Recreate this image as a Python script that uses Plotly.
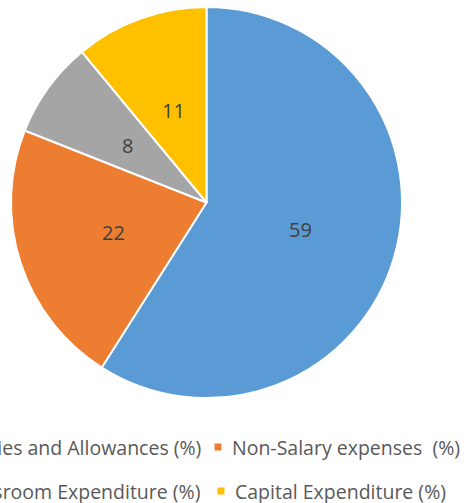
import math
import plotly.graph_objects as go

categories = ["Salaries and Allowances (%)", "Non-Salary expenses  (%)",
              "Classroom Expenditure (%)", "Capital Expenditure (%)"]
values = [59, 22, 8, 11]
colors = ["#5B9BD5", "#ED7D31", "#A5A5A5", "#FFC000"]

W, H = 466, 503
LEFT, RIGHT, TOP, BOTTOM = 11, 402, 7, 398  # pie box in pixels
FONT = "Open Sans"

fig = go.Figure(go.Pie(
    labels=categories, values=values, sort=False, direction="clockwise", rotation=0,
    marker=dict(colors=colors, line=dict(color="white", width=2)),
    textinfo="none",
    domain=dict(x=[LEFT / W, RIGHT / W], y=[1 - BOTTOM / H, 1 - TOP / H]),
    showlegend=False, hoverinfo="label+value",
))

# data labels at half radius along each slice's bisector (as in the reference)
cx, cy = (LEFT + RIGHT) / 2, (TOP + BOTTOM) / 2
R = (RIGHT - LEFT) / 2
total = sum(values)
cum = 0
for v in values:
    theta = 2 * math.pi * (cum + v / 2) / total
    cum += v
    px = cx + 0.5 * R * math.sin(theta)
    py = cy - 0.5 * R * math.cos(theta)
    fig.add_annotation(x=px / W, y=1 - py / H, xref="paper", yref="paper", text=str(v),
                       showarrow=False, xanchor="center", yanchor="middle",
                       font=dict(family=FONT, size=20, color="#404040"))

# legend rendered as annotations (reference legend is cut off at the left edge)
legend_rows = [(0, 1, 447, 203, 218), (2, 3, 491, 202, 221)]
for left_i, right_i, yc, left_end, sq_x in legend_rows:
    fig.add_annotation(x=left_end / W, y=1 - yc / H, xref="paper", yref="paper",
                       text=categories[left_i], showarrow=False, xanchor="right", yanchor="middle",
                       font=dict(family=FONT, size=19.5, color="#595959"))
    fig.add_shape(type="rect", xref="paper", yref="paper",
                  x0=(sq_x - 3.5) / W, x1=(sq_x + 3.5) / W,
                  y0=1 - (yc + 3.5) / H, y1=1 - (yc - 3.5) / H,
                  fillcolor=colors[right_i], line=dict(width=0))
    fig.add_annotation(x=(sq_x + 12) / W, y=1 - yc / H, xref="paper", yref="paper",
                       text=categories[right_i], showarrow=False, xanchor="left", yanchor="middle",
                       font=dict(family=FONT, size=19.5, color="#595959"))

fig.update_layout(width=W, height=H, margin=dict(l=0, r=0, t=0, b=0, autoexpand=False),
                  paper_bgcolor="white", plot_bgcolor="white")
fig.write_html("out.html", config={"displayModeBar": False},
               post_script="document.body.style.margin='0';document.body.style.overflow='hidden';")
